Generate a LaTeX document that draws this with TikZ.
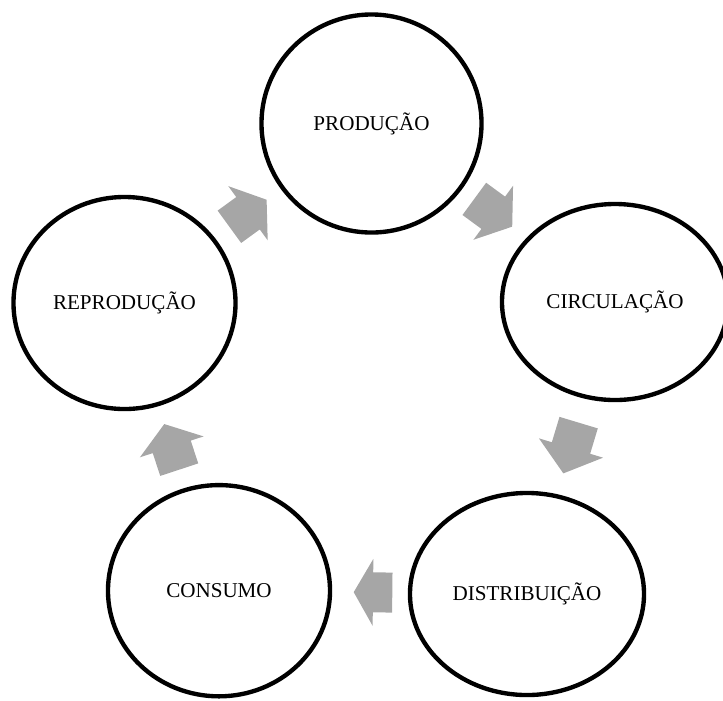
\documentclass[tikz,border=0pt]{standalone}
\usepackage{fontspec}
\setmainfont{Liberation Serif}
\usetikzlibrary{shapes.geometric, calc}

\definecolor{arrowgray}{RGB}{166, 166, 166}

\tikzset{
  stage/.style={draw=black, ellipse, line width=3.1pt, inner sep=0pt, font=\fontsize{15}{18}\selectfont},
  cyclearrow/.style={fill=arrowgray}
}

% block arrow halfway between two stages: from, to, length
\newcommand{\stagearrow}[3]{%
  \pgfmathanglebetweenpoints{\pgfpointanchor{#1}{center}}{\pgfpointanchor{#2}{center}}%
  \let\arrowangle\pgfmathresult
  \fill[cyclearrow, shift={($(#1)!0.5!(#2)$)}, rotate=\arrowangle]
    (-#3/2, 20) -- (0, 20) -- (0, 33.5) -- (#3/2, 0) -- (0, -33.5) -- (0, -20) -- (-#3/2, -20) -- cycle;
}

\begin{document}
\begin{tikzpicture}[x=0.025cm, y=-0.025cm]
  \useasboundingbox (0, 0) rectangle (723, 700);
  \clip (0, 0) rectangle (723, 700);

  % stages of the cycle
  \node[stage, minimum width=5.5cm, minimum height=5.45cm] (prod) at (371.5, 123.5) {PRODUÇÃO};
  \node[stage, minimum width=5.65cm, minimum height=4.9cm] (circ) at (615, 302) {CIRCULAÇÃO};
  \node[stage, minimum width=5.85cm, minimum height=5.05cm] (dist) at (527, 594) {DISTRIBUIÇÃO};
  \node[stage, minimum width=5.55cm, minimum height=5.28cm] (cons) at (219, 590.7) {CONSUMO};
  \node[stage, minimum width=5.55cm, minimum height=5.3cm] (rep) at (124.5, 303) {REPRODUÇÃO};

  % arrows
  \stagearrow{rep}{prod}{46}
  \stagearrow{prod}{circ}{47}
  \stagearrow{circ}{dist}{53}
  \stagearrow{dist}{cons}{38.6}
  \stagearrow{cons}{rep}{48}
\end{tikzpicture}
\end{document}
